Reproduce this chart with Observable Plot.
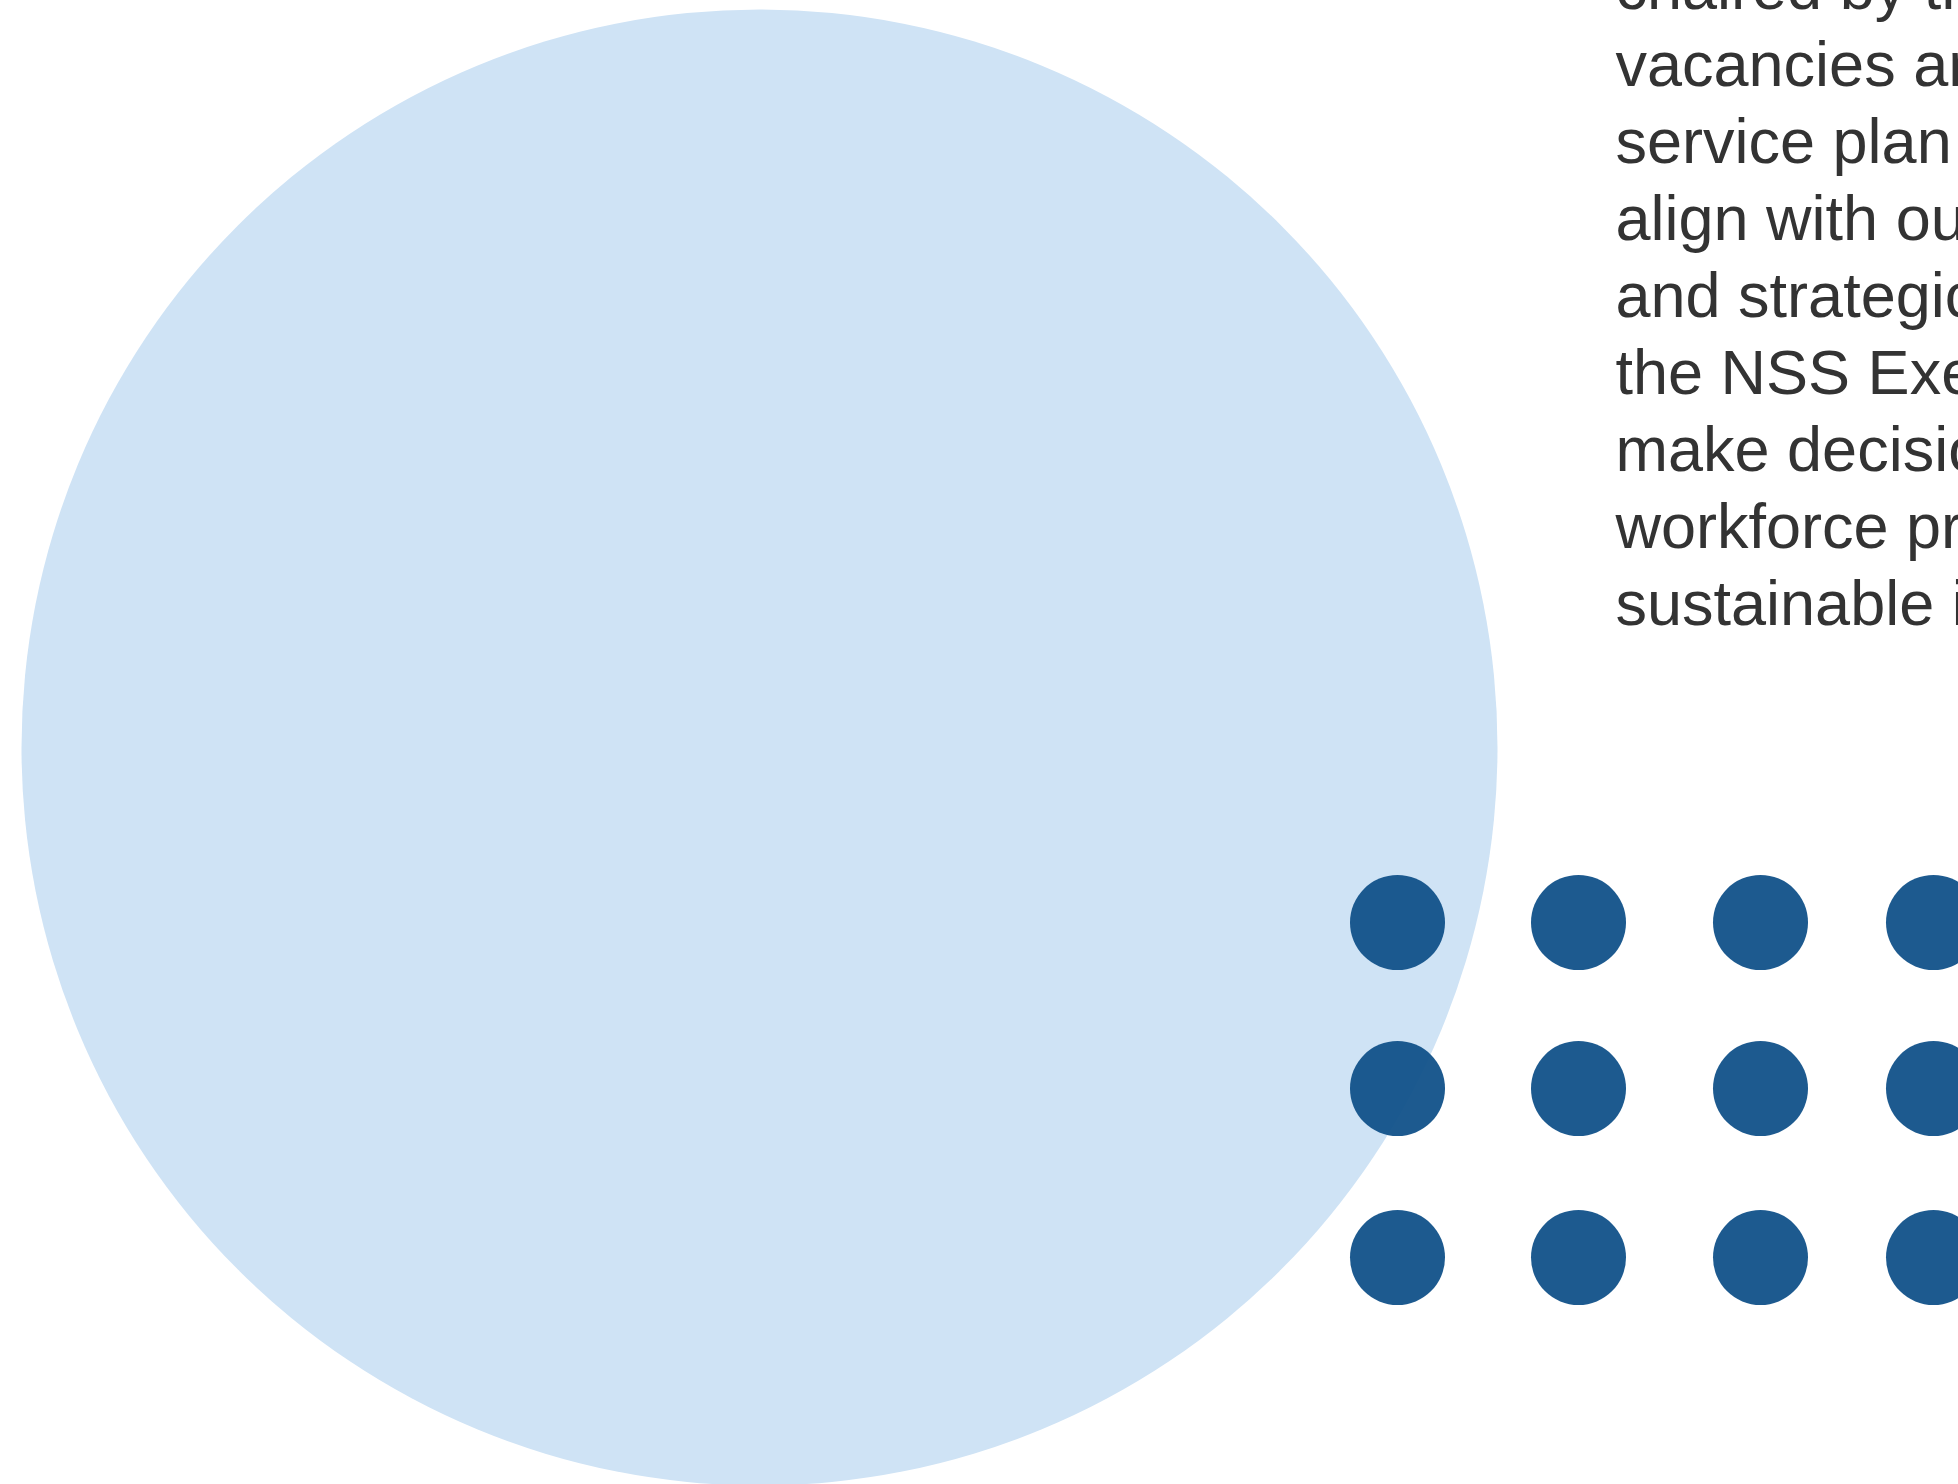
<!DOCTYPE html>
<html>
<head>
<meta charset="utf-8">
<script src="https://cdn.jsdelivr.net/npm/d3@7"></script>
<script src="https://cdn.jsdelivr.net/npm/@observablehq/plot@0.6"></script>
<style>
  html, body { margin: 0; padding: 0; background: #ffffff; overflow: hidden; }
  #chart svg { display: block; }
</style>
</head>
<body>
<div id="chart"></div>
<script>
// Big light circle (centre x, centre y, radius) in page pixel units
const bigCircleX = [759];
const bigCircleY = [747];
const bigCircleR = [738];

// Dot grid
const dotColumns = [1397, 1578, 1760, 1933];
const dotRows = [922, 1088, 1257];
const dotRadius = 47.5;

// Text lines (clipped at right edge in the reference)
const textLines = [
  "chaired by the",
  "vacancies and",
  "service plan",
  "align with our",
  "and strategic",
  "the NSS Executive",
  "make decisions",
  "workforce priorities",
  "sustainable in"
];
const textX = 1615;
const firstBaseline = 8;
const lineStep = 77;

const W = 1958, H = 1484;

const circleData = bigCircleX.map((x, i) => ({x, y: bigCircleY[i], r: bigCircleR[i]}));
const dotData = dotRows.flatMap(y => dotColumns.map(x => ({x, y, r: dotRadius})));
const textData = textLines.map((t, i) => ({t, x: textX, y: firstBaseline + i * lineStep}));

const plot = Plot.plot({
  width: W,
  height: H,
  margin: 0,
  x: {domain: [0, W], range: [0, W], axis: null},
  y: {domain: [0, H], range: [0, H], axis: null},
  r: {type: "identity"},
  style: {background: "#ffffff", overflow: "hidden"},
  marks: [
    Plot.dot(circleData, {x: "x", y: "y", r: "r", fill: "#cfe3f5", stroke: "none"}),
    Plot.dot(dotData, {x: "x", y: "y", r: "r", fill: "#115189", fillOpacity: 0.95, stroke: "none"}),
    Plot.text(textData, {
      x: "x", y: "y", text: "t",
      textAnchor: "start", lineAnchor: "bottom",
      fontSize: 63, fill: "#333333",
      fontFamily: "'Liberation Sans', Arial, Helvetica, sans-serif"
    })
  ]
});
document.getElementById("chart").appendChild(plot);
</script>
</body>
</html>
